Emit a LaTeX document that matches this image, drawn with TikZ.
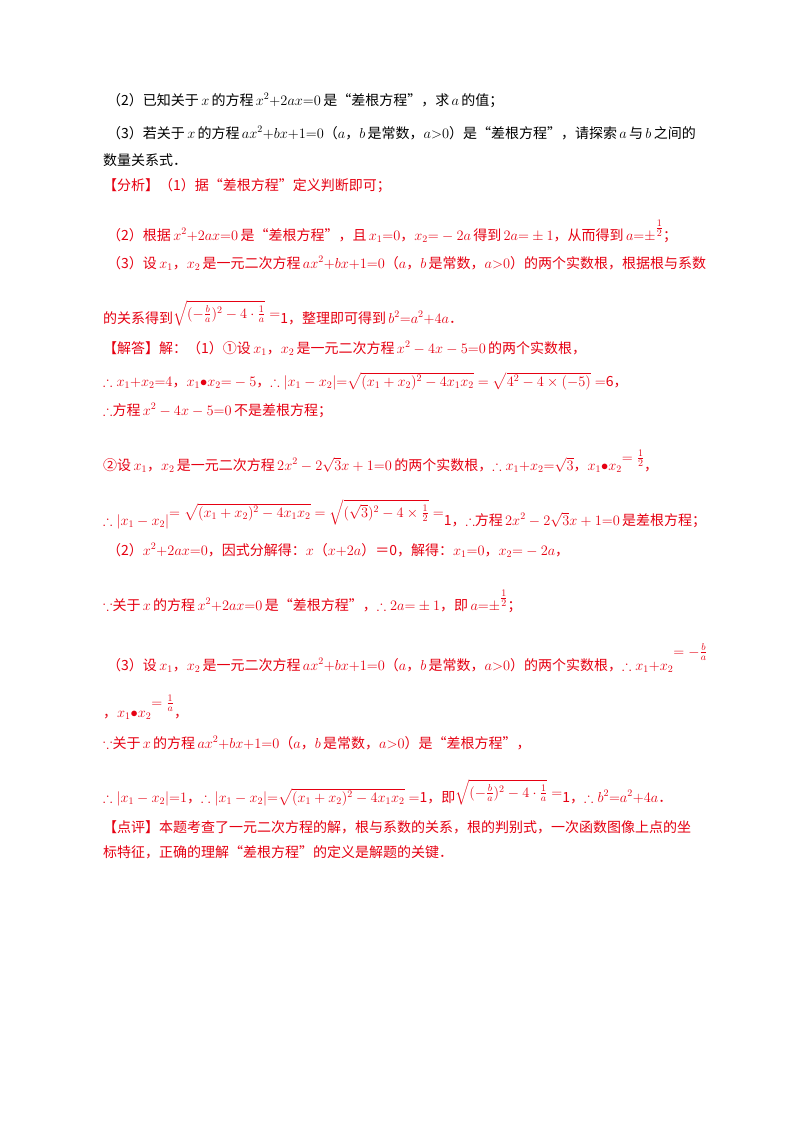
\documentclass[tikz,border=0pt]{standalone}
\usepackage{amsmath,amssymb}
\usepackage{fontspec}
\setmainfont{Noto Sans CJK SC}
\definecolor{rd}{HTML}{E60012}
\tikzset{t/.style={anchor=base west,inner sep=0pt,font=\fontsize{14}{16}\selectfont},r/.style={t,text=rd}}
\begin{document}
\begin{tikzpicture}[x=1pt,y=-1pt]
\useasboundingbox[fill=white] (0,0) rectangle (800,1132);
\node[t] (l1) at (107,105) {（2）已知关于\,$x$\,的方程\,$x^2{+}2ax{=}0$\,是“差根方程”，求\,$a$\,的值；};
\node[t] (l2) at (107,138) {（3）若关于\,$x$\,的方程\,$ax^2{+}bx{+}1{=}0$（$a$，$b$\,是常数，$a{>}0$）是“差根方程”，请探索\,$a$\,与\,$b$\,之间的};
\node[t] (l3) at (103,165) {数量关系式．};
\node[r] (l4) at (103,190) {【分析】（1）据“差根方程”定义判断即可；};
\node[r] (l5) at (107,240) {（2）根据\,$x^2{+}2ax{=}0$\,是“差根方程”，且\,$x_1{=}0$，$x_2{=}-2a$\,得到\,$2a{=}\pm1$，从而得到\,$a{=}\pm$\raisebox{8pt}{$\frac{1}{2}$}；};
\node[r] (l6) at (107,268) {（3）设\,$x_1$，$x_2$\,是一元二次方程\,$ax^2{+}bx{+}1{=}0$（$a$，$b$\,是常数，$a{>}0$）的两个实数根，根据根与系数};
\node[r] (l7) at (103,323) {的关系得到\raisebox{5pt}{$\sqrt{(-\frac{b}{a})^2-4\cdot\frac{1}{a}}=$}1，整理即可得到\,$b^2{=}a^2{+}4a$．};
\node[r] (l8) at (103,353) {【解答】解：（1）①设\,$x_1$，$x_2$\,是一元二次方程\,$x^2-4x-5{=}0$\,的两个实数根，};
\node[r] (l9) at (103,386) {$\therefore x_1{+}x_2{=}4$，$x_1{\bullet}x_2{=}-5$，$\therefore|x_1-x_2|{=}\sqrt{(x_1+x_2)^2-4x_1x_2}=\sqrt{4^2-4\times(-5)}=$6，};
\node[r] (l10) at (103,415) {$\therefore$方程\,$x^2-4x-5{=}0$\,不是差根方程；};
\node[r] (l11) at (103,470) {②设\,$x_1$，$x_2$\,是一元二次方程\,$2x^2-2\sqrt{3}x+1{=}0$\,的两个实数根，$\therefore x_1{+}x_2{=}\sqrt{3}$，$x_1{\bullet}x_2$\raisebox{8pt}{$=\frac{1}{2}$}，};
\node[r] (l12) at (103,525) {$\therefore|x_1-x_2|$\raisebox{8pt}{$=\sqrt{(x_1+x_2)^2-4x_1x_2}=\sqrt{(\sqrt{3})^2-4\times\frac{1}{2}}=$}1，$\therefore$方程\,$2x^2-2\sqrt{3}x+1{=}0$\,是差根方程；};
\node[r] (l13) at (107,555) {（2）$x^2{+}2ax{=}0$，因式分解得：$x$（$x{+}2a$）＝0，解得：$x_1{=}0$，$x_2{=}-2a$，};
\node[r] (l14) at (103,610) {$\because$关于\,$x$\,的方程\,$x^2{+}2ax{=}0$\,是“差根方程”，$\therefore 2a{=}\pm1$，即\,$a{=}\pm$\raisebox{8pt}{$\frac{1}{2}$}；};
\node[r] (l15) at (107,670) {（3）设\,$x_1$，$x_2$\,是一元二次方程\,$ax^2{+}bx{+}1{=}0$（$a$，$b$\,是常数，$a{>}0$）的两个实数根，$\therefore x_1{+}x_2$\raisebox{14pt}{$=-\frac{b}{a}$}};
\node[r] (l16) at (103,717) {，$x_1{\bullet}x_2$\raisebox{10pt}{$=\frac{1}{a}$}，};
\node[r] (l17) at (103,748) {$\because$关于\,$x$\,的方程\,$ax^2{+}bx{+}1{=}0$（$a$，$b$\,是常数，$a{>}0$）是“差根方程”，};
\node[r] (l18) at (103,802) {$\therefore|x_1-x_2|{=}1$，$\therefore|x_1-x_2|{=}\sqrt{(x_1+x_2)^2-4x_1x_2}=$1，即\raisebox{5pt}{$\sqrt{(-\frac{b}{a})^2-4\cdot\frac{1}{a}}=$}1，$\therefore b^2{=}a^2{+}4a$．};
\node[r] (l19) at (103,832) {【点评】本题考查了一元二次方程的解，根与系数的关系，根的判别式，一次函数图像上点的坐};
\node[r] (l20) at (103,857) {标特征，正确的理解“差根方程”的定义是解题的关键．};
\end{tikzpicture}
\end{document}
